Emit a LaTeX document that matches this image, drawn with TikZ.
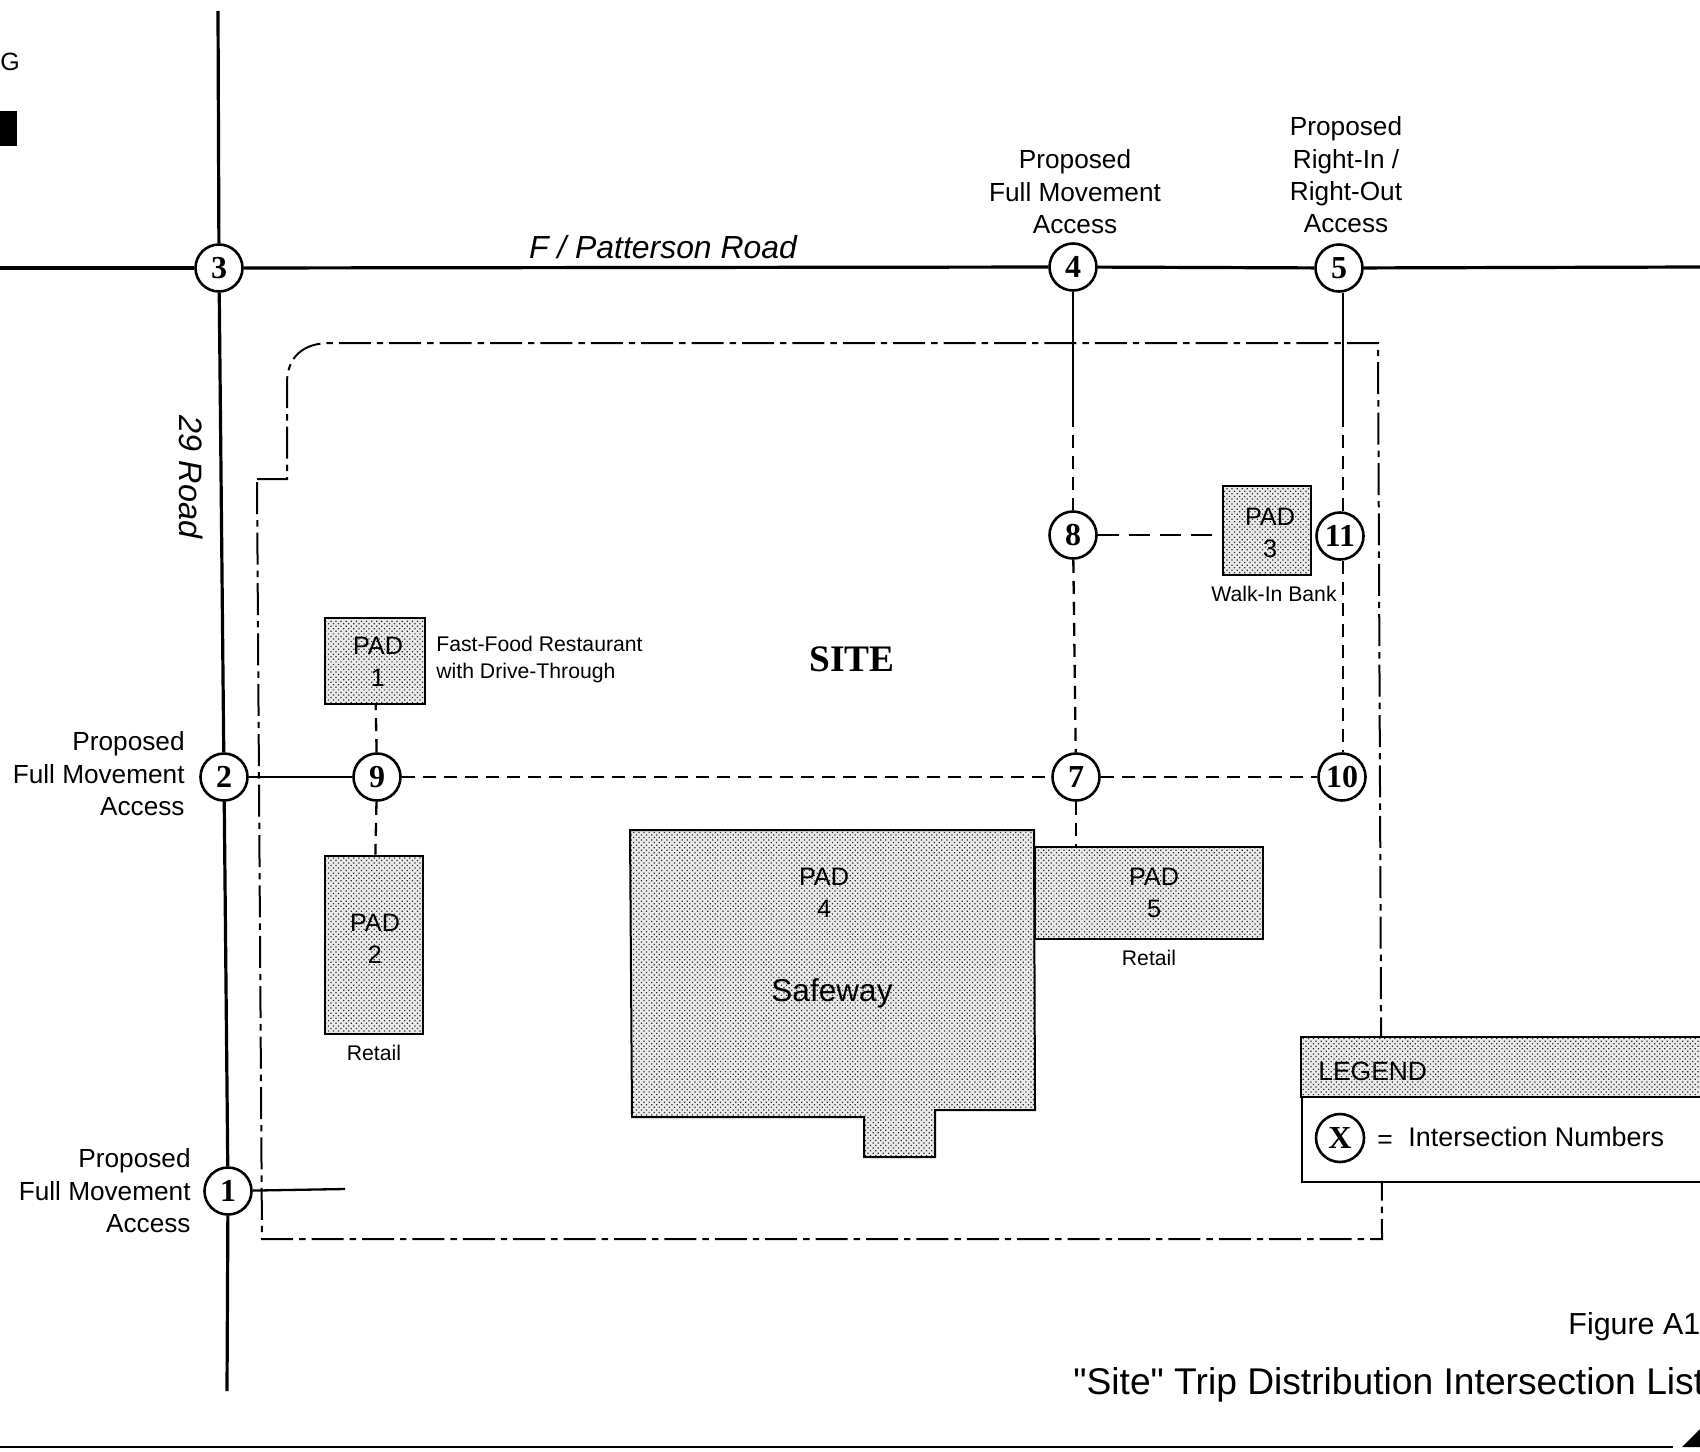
\documentclass[tikz,border=0pt]{standalone}
\usepackage{fontspec}
\setmainfont{Liberation Sans}
\newfontfamily\capfont{Liberation Sans}
\newfontfamily\serifb{Liberation Serif}[BoldFont={Liberation Serif Bold}]
\usetikzlibrary{patterns.meta}
\newcommand{\myfs}[2]{\fontsize{#1}{#2}\selectfont}
\tikzset{
  px/.style={x=0.5pt,y=-0.5pt},
  road/.style={line width=1.6pt},
  conn/.style={line width=1.15pt},
  dashconn/.style={line width=1.15pt,dash pattern=on 6.5pt off 4pt},
  longdash/.style={line width=1.15pt,dash pattern=on 10.5pt off 5pt},
  boundary/.style={line width=1pt,dash pattern=on 16pt off 3pt on 3.2pt off 3pt,line join=miter},
  isect/.style={circle,draw,line width=1.3pt,fill=white,minimum size=23.5pt,inner sep=0pt,font=\serifb\bfseries\myfs{16}{16}},
  shade/.style={draw,line width=1pt,preaction={fill=black!8},pattern={Dots[distance=1.8pt,radius=0.44pt,angle=45]},pattern color=black!85},
  padbox/.style={shade,rectangle,inner sep=0pt},
  lbl/.style={inner sep=0pt,align=center,font=\myfs{13.1}{16.2}},
  lblr/.style={inner sep=0pt,align=right,font=\myfs{13.1}{16.2}},
  padtxt/.style={inner sep=0pt,align=center,font=\myfs{12.6}{16.2}},
  small/.style={inner sep=0pt,font=\myfs{10.6}{13.5},align=left},
}
\begin{document}
\begin{tikzpicture}[px]
\clip (0,0) rectangle (1700,1451);
\fill[white] (0,0) rectangle (1700,1451);

% free road ends
\coordinate (rtop) at (218,11);
\coordinate (rbot) at (227,1391);
\coordinate (hl) at (0,268);
\coordinate (hr) at (1700,267);
\coordinate (acc1) at (345,1189);
\coordinate (s4) at (1073,414);
\coordinate (s5) at (1343,414);
\coordinate (d7) at (1076,847);

% site boundary
\draw[boundary] (257,479) -- (287,479) -- (287,383) .. controls (287,358) and (302,343) .. (330,343)
  -- (1378,343) -- (1382,1239) -- (262,1239) -- cycle;

% pads
\node[padbox,minimum width=50pt,minimum height=43pt] (p1) at (375,661) {};
\node[padbox,minimum width=49pt,minimum height=89pt] (p2) at (373.5,944.5) {};
\node[padbox,minimum width=44pt,minimum height=44.5pt] (p3) at (1267,530.5) {};
\node[padbox,minimum width=114pt,minimum height=46pt] (p5) at (1149,893) {};
\draw[shade] (630,830) -- (1034,830) -- (1035,1110) -- (935,1110) -- (935,1157) -- (864,1157) -- (864,1117) -- (632,1117) -- cycle;

% intersections
\node[isect] (n3) at (219,268) {3};
\node[isect] (n4) at (1073,267) {4};
\node[isect] (n5) at (1339,268) {5};
\node[isect] (n2) at (224,777) {2};
\node[isect] (n9) at (377,777) {9};
\node[isect] (n7) at (1076,777) {7};
\node[isect] (n10) at (1342,777) {10};
\node[isect] (n8) at (1073,535) {8};
\node[isect] (n11) at (1340,536) {11};
\node[isect] (n1) at (228,1191) {1};

% roads
\draw[road] (rtop) -- (n3);
\draw[road] (n3) -- (n2);
\draw[road] (n2) -- (n1);
\draw[road] (n1) -- (rbot);
\draw[road] (hl) -- (n3);
\draw[road] (n3) -- (n4);
\draw[road] (n4) -- (n5);
\draw[road] (n5) -- (hr);

% connectors
\draw[conn] (n1) -- (acc1);
\draw[conn] (n2) -- (n9);
\draw[conn] (n4) -- (s4);
\draw[conn] (n5.south -| s5) -- (s5);
\draw[dashconn] (s4) -- (n8);
\draw[dashconn] (s5) -- (n11.north -| s5);
\draw[dashconn] (n8) -- (n7);
\draw[dashconn] (n11.south -| s5) -- (n10.north -| s5);
\draw[dashconn] (n9) -- (n7);
\draw[dashconn] (n7) -- (n10);
\draw[dashconn] (n9) -- (p1);
\draw[dashconn] (n9) -- (p2);
\draw[dashconn] (n7.south) -- (d7);
\draw[longdash] (n8) -- ([xshift=-4pt]p3.west |- n8);

% legend
\node[draw,fill=white,line width=1.1pt,rectangle,minimum width=210pt,minimum height=72pt,anchor=north west,inner sep=0pt] (legend) at (1301,1037) {};
\draw[shade] (1301,1037) rectangle (1720,1097);
\node[isect,minimum size=24pt] (lx) at (1340,1138) {X};
\node[inner sep=0pt,anchor=west,font=\myfs{13.2}{13.2}] (lt) at (1318,1071) {LEGEND};
\node[inner sep=0pt,anchor=west,font=\myfs{13.2}{13.2}] (leq) at (1377,1142) {=};
\node[inner sep=0pt,anchor=west,font=\myfs{13.45}{13.45}] (lin) at (1408,1137) {Intersection Numbers};

% labels
\node[lbl] (t4) at (1075,192) {Proposed\\Full Movement\\Access};
\node[lbl] (t5) at (1346,175) {Proposed\\Right-In /\\Right-Out\\Access};
\node[lblr,anchor=east] (t2) at (185,774) {Proposed\\Full Movement\\Access};
\node[lblr,anchor=east] (t1) at (191,1191) {Proposed\\Full Movement\\Access};
\node[inner sep=0pt,font=\itshape\myfs{15.95}{15.95}] (tf) at (663,247) {F / Patterson Road};
\node[inner sep=0pt,font=\itshape\myfs{16.2}{16.2},rotate=-90] (t29) at (191,477) {29 Road};
\node[inner sep=0pt,font=\serifb\bfseries\myfs{18.7}{18.7}] (tsite) at (852,659) {SITE};
\node[small,anchor=west] (tff) at (436,660) {Fast-Food Restaurant\\with Drive-Through};
\node[padtxt] (tp1) at (378,662) {PAD\\1};
\node[padtxt] (tp2) at (375,939) {PAD\\2};
\node[padtxt] (tp3) at (1270,533) {PAD\\3};
\node[padtxt] (tp4) at (824,893) {PAD\\4};
\node[padtxt] (tp5) at (1154,893) {PAD\\5};
\node[inner sep=0pt,font=\myfs{15.8}{15.8}] (tsw) at (832,993) {Safeway};
\node[small] (tr2) at (374,1053) {Retail};
\node[small] (tr5) at (1149,958) {Retail};
\node[small] (twb) at (1274,594) {Walk-In Bank};
\node[inner sep=0pt,anchor=base west,font=\capfont\myfs{15.2}{15.2}] (tfig) at (1568,1334) {Figure A1};
\node[inner sep=0pt,anchor=base west,font=\capfont\myfs{18.6}{18.6}] (tcap) at (1073,1394) {"Site" Trip Distribution Intersection List};

% page remnants
\node[inner sep=0pt,anchor=base west,font=\myfs{12.5}{12.5}] (tg) at (0,70) {G};
\fill (0,111) rectangle (17,146);
\draw[line width=1.2pt] (0,1447) -- (1673,1447);
\fill (1682,1447) -- (1700,1429) -- (1700,1447) -- cycle;
\end{tikzpicture}
\end{document}
